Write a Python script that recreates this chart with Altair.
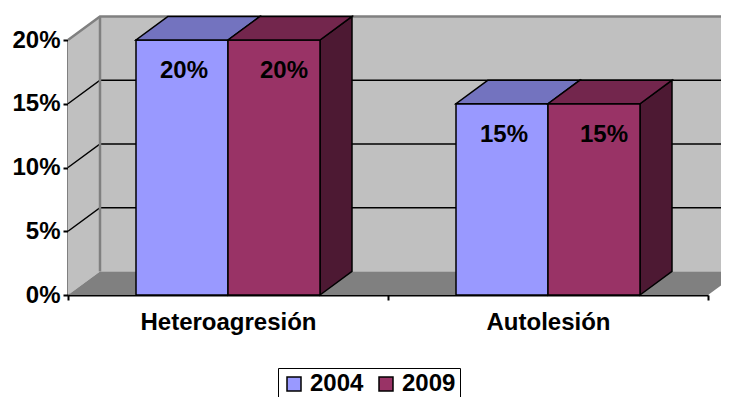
import altair as alt
import pandas as pd

# ---- data ----
categories = ["Heteroagresión", "Autolesión"]
series = ["2004", "2009"]
values_2004 = [20, 15]
values_2009 = [20, 15]
y_ticks = [0, 5, 10, 15, 20]

# ---- styles ----
front_colors = ["#9999ff", "#993366"]
top_colors = ["#7373bf", "#73264d"]
side_colors = ["#5c5c99", "#4d1933"]
wall_color = "#c0c0c0"
floor_color = "#808080"
FONT = "Liberation Sans"
FS = 24

W, H = 640, 255
GAP = 0.2125   # gap before the first bar in a category (category units)
BW = 0.2875    # bar width (category units)
DX = 0.1       # 3D depth, x (category units)
DY = 1.85      # 3D depth, y (percentage units)
YMAX = y_ticks[-1]
XMAX = len(categories)

vals = {"2004": values_2004, "2009": values_2009}

bars, tops, sides = [], [], []
for i, c in enumerate(categories):
    for j, s in enumerate(series):
        v = vals[s][i]
        x0 = i + GAP + j * BW
        x1 = x0 + BW
        fid = f"{i}-{j}"
        bars.append(dict(cat=c, series=s, v=v, zero=0, x=x0, x2=x1,
                         xc=(x0 + x1) / 2, label=f"{v}%"))
        tops += [dict(face=fid, y=v, x=x0, x2=x1, fill=top_colors[j]),
                 dict(face=fid, y=v + DY, x=x0 + DX, x2=x1 + DX, fill=top_colors[j])]
        sides += [dict(face=fid, x=x1, y=0, y2=v, fill=side_colors[j]),
                  dict(face=fid, x=x1 + DX, y=DY, y2=v + DY, fill=side_colors[j])]

bars_df = pd.DataFrame(bars)
tops_df = pd.DataFrame(tops)
sides_df = pd.DataFrame(sides)

back_df = pd.DataFrame([dict(x=DX, x2=XMAX + DX, y=DY, y2=YMAX + DY)])
left_df = pd.DataFrame([dict(x=0, y=0, y2=YMAX), dict(x=DX, y=DY, y2=YMAX + DY)])
floor_df = pd.DataFrame([dict(y=0, x=0, x2=XMAX), dict(y=DY, x=DX, x2=XMAX + DX)])

grid = []
for v in y_ticks[1:-1]:
    for k, (gx, gy) in enumerate([(0, v), (DX, v + DY), (XMAX + DX, v + DY)]):
        grid.append(dict(line=f"g{v}", o=k, x=gx, y=gy))
grid_df = pd.DataFrame(grid)

edges = []
for k, (gx, gy) in enumerate([(0, YMAX), (DX, YMAX + DY), (XMAX + DX, YMAX + DY)]):
    edges.append(dict(line="top", o=k, x=gx, y=gy))
for k, (gx, gy) in enumerate([(DX, DY), (DX, YMAX + DY)]):
    edges.append(dict(line="backleft", o=k, x=gx, y=gy))
edges_df = pd.DataFrame(edges)

xs = alt.Scale(domain=[0, XMAX], nice=False, zero=False)
ys = alt.Scale(domain=[0, YMAX], nice=False, zero=False)

label_expr = " : ".join(
    [f"datum.value == {i} ? '{c}'" for i, c in enumerate(categories)]) + " : ''"

x_axis = alt.Axis(values=list(range(XMAX + 1)), labelExpr=label_expr,
                  labelOffset=W / XMAX / 2, tickSize=5, tickWidth=2, tickColor="black",
                  domainColor="black", domainWidth=2, labelFont=FONT, labelFontSize=FS,
                  labelFontWeight="bold", labelColor="black", labelPadding=10,
                  grid=False, title=None, labelOverlap=False, labelBound=False,
                  labelFlush=False)
y_axis = alt.Axis(values=y_ticks, labelExpr="datum.value + '%'", tickSize=5, tickWidth=2,
                  tickColor="black", domainColor="black", domainWidth=2, labelFont=FONT,
                  labelFontSize=FS, labelFontWeight="bold", labelColor="black",
                  labelPadding=3, grid=False, title=None, labelOverlap=False,
                  labelBound=False, labelFlush=False)


def X(f):
    return alt.X(f, scale=xs, axis=x_axis)


def Y(f):
    return alt.Y(f, scale=ys, axis=y_axis)


back = alt.Chart(back_df).mark_rect(fill=wall_color).encode(
    x=X("x:Q"), x2="x2:Q", y=Y("y:Q"), y2="y2:Q")

left = alt.Chart(left_df).mark_area(fill=wall_color, opacity=1).encode(
    x=X("x:Q"), y=Y("y:Q"), y2="y2:Q")

floor = alt.Chart(floor_df).mark_area(fill=floor_color, opacity=1, orient="horizontal").encode(
    y=Y("y:Q"), x=X("x:Q"), x2="x2:Q")

grid_lines = alt.Chart(grid_df).mark_line(color="black", strokeWidth=1.5).encode(
    x=X("x:Q"), y=Y("y:Q"), detail="line:N", order="o:Q")

edge_lines = alt.Chart(edges_df).mark_line(color="#808080", strokeWidth=2.5).encode(
    x=X("x:Q"), y=Y("y:Q"), detail="line:N", order="o:Q")

side_faces = alt.Chart(sides_df).mark_area(stroke="black", strokeWidth=1.5, opacity=1).encode(
    x=X("x:Q"), y=Y("y:Q"), y2="y2:Q", detail="face:N",
    color=alt.Color("fill:N", scale=None))

fronts = alt.Chart(bars_df).mark_rect(stroke="black", strokeWidth=1.5, opacity=1).encode(
    x=X("x:Q"), x2="x2:Q", y=Y("zero:Q"), y2="v:Q",
    color=alt.Color("series:N", scale=alt.Scale(domain=series, range=front_colors),
                    legend=alt.Legend(title=None, orient="none", legendX=210, legendY=328,
                                      direction="horizontal", strokeColor="black", padding=4,
                                      symbolType="square", symbolSize=196,
                                      symbolStrokeColor="black", symbolStrokeWidth=1.5,
                                      labelFont=FONT, labelFontSize=FS, labelFontWeight="bold",
                                      labelColor="black", labelOffset=4, columnPadding=10,
                                      symbolOpacity=1)))

top_faces = alt.Chart(tops_df).mark_area(stroke="black", strokeWidth=1.5, opacity=1,
                                          orient="horizontal").encode(
    y=Y("y:Q"), x=X("x:Q"), x2="x2:Q", detail="face:N",
    color=alt.Color("fill:N", scale=None))

label_dx = {"2004": 2, "2009": 10}
label_dy = 31
texts = [
    alt.Chart(bars_df).transform_filter(alt.datum.series == s).mark_text(
        font=FONT, fontSize=FS, fontWeight="bold", color="black", baseline="middle",
        dy=label_dy, dx=label_dx[s]).encode(x=X("xc:Q"), y=Y("v:Q"), text="label:N")
    for s in series
]

chart = alt.layer(back, left, floor, grid_lines, edge_lines, side_faces, fronts, top_faces,
                  *texts).properties(
    width=W, height=H,
    padding={"left": 60, "top": 32, "right": 13, "bottom": 102},
    autosize=alt.AutoSizeParams(type="none"),
    background="white",
).configure_view(stroke=None)

chart.save("out.html", embed_options={"renderer": "svg", "actions": False})
